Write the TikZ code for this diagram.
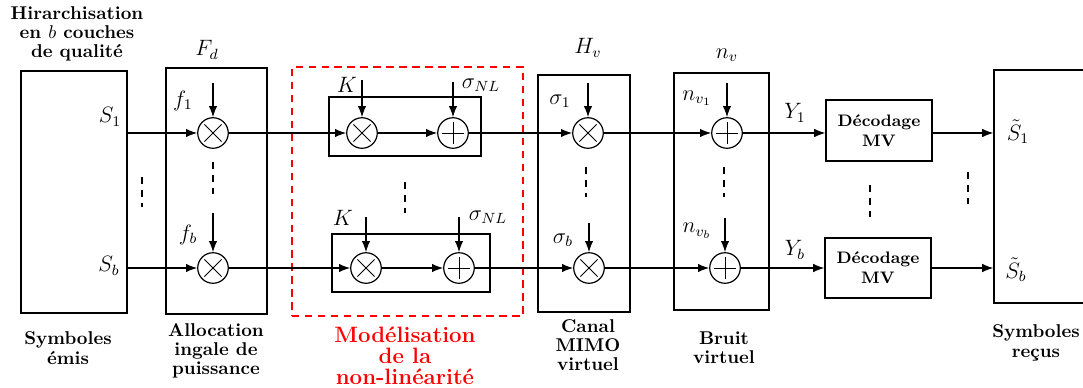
\documentclass[tikz,border=0pt]{standalone}
\usetikzlibrary{arrows.meta,calc,fit}
\begin{document}
\begin{tikzpicture}[x=0.54pt,y=-0.54pt,
  blk/.style={draw, line width=0.7pt, inner sep=0pt},
  op/.style={draw, circle, minimum size=16.5pt, inner sep=0pt, line width=0.65pt},
  mult/.style={op, path picture={\draw[line width=0.5pt]
     ($(path picture bounding box.center)+(-4.6pt,-4.6pt)$) -- ++(9.2pt,9.2pt)
     ($(path picture bounding box.center)+(-4.6pt,4.6pt)$) -- ++(9.2pt,-9.2pt);}},
  adder/.style={op, path picture={\draw[line width=0.5pt]
     ($(path picture bounding box.center)+(-6pt,0)$) -- ++(12pt,0)
     ($(path picture bounding box.center)+(0,-6pt)$) -- ++(0,12pt);}},
  arr/.style={-{Latex[length=6pt,width=4.6pt]}, line width=0.65pt},
  dsh/.style={line width=0.65pt, dash pattern=on 4pt off 3pt},
  lbl/.style={align=center, font=\bfseries\fontsize{10}{10.4}\selectfont, inner sep=0pt},
  mth/.style={font=\large, inner sep=0pt},
]
\useasboundingbox (0,0) rectangle (1083,387);
\clip (0,0) rectangle (1083,387);

% boxes
\node[blk, fit={(21,71) (127,313)}] (L) {};
\node[blk, fit={(166,68) (267,314)}] (Fd) {};
\node[draw=red, line width=0.6pt, dash pattern=on 4pt off 3pt, inner sep=0pt, fit={(292,67) (523,316)}] (NL) {};
\node[blk, fit={(329,97) (481,156)}] (NL1) {};
\node[blk, fit={(332,234) (490,292)}] (NL2) {};
\node[blk, fit={(538,75) (630,312)}] (Hv) {};
\node[blk, fit={(674,73) (769,310)}] (Nv) {};
\node[blk, fit={(826,100) (932,161)}] (D1) {};
\node[blk, fit={(825,238) (931,298)}] (D2) {};
\node[blk, fit={(994,70) (1110,303)}] (R) {};
\node[font=\small\bfseries, align=center, inner sep=0pt] (D1t) at (D1.center) {D\'ecodage\\MV};
\node[font=\small\bfseries, align=center, inner sep=0pt] (D2t) at (D2.center) {D\'ecodage\\MV};

% operators
\node[mult] (m1) at (213,133) {};
\node[mult] (mb) at (213,268) {};
\node[mult] (k1) at (362,133) {};
\node[adder] (a1) at (453,133) {};
\node[mult] (k2) at (366,268) {};
\node[adder] (a2) at (459,268) {};
\node[mult] (h1) at (588,133) {};
\node[mult] (hb) at (589,268) {};
\node[adder] (n1) at (727,133) {};
\node[adder] (nb) at (725,268) {};

% input coordinates
\coordinate (im1) at (213,83);
\coordinate (imb) at (213,213);
\coordinate (ik1) at (362,80);
\coordinate (ia1) at (453,82);
\coordinate (ik2) at (366,217);
\coordinate (ia2) at (459,217);
\coordinate (ih1) at (588,83);
\coordinate (ihb) at (589,223);
\coordinate (in1) at (727,83);
\coordinate (inb) at (725,218);
\foreach \a/\b in {im1/m1,imb/mb,ik1/k1,ia1/a1,ik2/k2,ia2/a2,ih1/h1,ihb/hb,in1/n1,inb/nb}
  \draw[arr] (\a) -- (\b);

% row 1 connectors
\draw[arr] (L.east |- m1) -- (m1);
\draw[arr] (m1) -- (k1);
\draw[arr] (k1) -- (a1);
\draw[arr] (a1) -- (h1);
\draw[arr] (h1) -- (n1);
\draw[arr] (n1) -- (D1.west |- n1);
\draw[arr] (D1.east |- n1) -- (R.west |- n1);
% row b connectors
\draw[arr] (L.east |- mb) -- (mb);
\draw[arr] (mb) -- (k2);
\draw[arr] (k2) -- (a2);
\draw[arr] (a2) -- (hb);
\draw[arr] (hb) -- (nb);
\draw[arr] (nb) -- (D2.west |- nb);
\draw[arr] (D2.east |- nb) -- (R.west |- nb);

% dashed continuation marks
\draw[dsh] (142,177) -- (142,207);
\draw[dsh] (213,162) -- (213,194);
\draw[dsh] (405,182) -- (405,213);
\draw[dsh] (586,167) -- (586,197);
\draw[dsh] (724,167) -- (724,197);
\draw[dsh] (870,185) -- (870,217);
\draw[dsh] (968,172) -- (968,204);

% math labels
\node[mth] (tFd) at (207,50) {$F_d$};
\node[mth] (tHv) at (588,48) {$H_v$};
\node[mth] (tnv) at (727,55) {$n_v$};
\node[mth] (tf1) at (183,101) {$f_1$};
\node[mth] (tfb) at (188,235) {$f_b$};
\node[mth] (tS1) at (110,117) {$S_1$};
\node[mth] (tSb) at (109,266) {$S_b$};
\node[mth] (tK1) at (347,85) {$K$};
\node[mth] (tK2) at (343,218) {$K$};
\node[mth] (ts1) at (481,85) {$\sigma_{NL}$};
\node[mth] (ts2) at (488,217) {$\sigma_{NL}$};
\node[mth] (tsg1) at (560,101) {$\sigma_1$};
\node[mth] (tsgb) at (563,240) {$\sigma_b$};
\node[mth] (tnv1) at (697,98) {$n_{v_1}$};
\node[mth] (tnvb) at (697,231) {$n_{v_b}$};
\node[mth] (tY1) at (795,113) {$Y_1$};
\node[mth] (tYb) at (795,250) {$Y_b$};
\node[mth] (tR1) at (1018,132) {$\tilde S_1$};
\node[mth] (tRb) at (1016,270) {$\tilde S_b$};

% text labels
\node[lbl] (title) at (77,34) {Hirarchisation\\en $b$ couches\\de qualit\'e};
\node[lbl] (emis) at (68,348) {Symboles\\\'emis};
\node[lbl] (alloc) at (216,351) {Allocation\\ingale de\\puissance};
\node[align=center, font=\large\bfseries\fontsize{12}{11.4}\selectfont, text=red, inner sep=0pt] (model) at (405,356) {Mod\'elisation\\de la\\non-lin\'earit\'e};
\node[lbl] (canal) at (588,345) {Canal\\MIMO\\virtuel};
\node[lbl] (bruit) at (724,348) {Bruit\\virtuel};
\node[lbl] (recus) at (1036,343) {Symboles\\re\c{c}us};
\end{tikzpicture}
\end{document}
